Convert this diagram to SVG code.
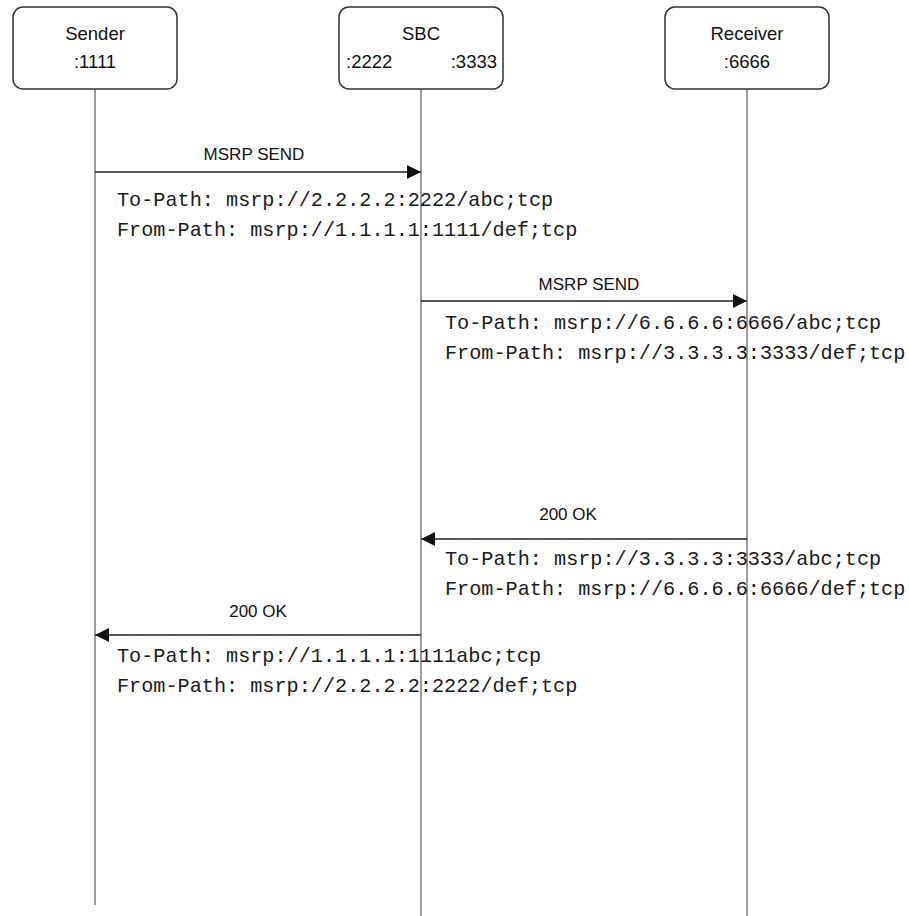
<svg xmlns="http://www.w3.org/2000/svg" width="909" height="916" viewBox="0 0 909 916">
<style>
.box{fill:#fff;stroke:#333;stroke-width:1.5}
.life{stroke:#7a7a7a;stroke-width:1.5}
.msg{stroke:#222;stroke-width:1.5;fill:none}
.lbl{font-family:"Liberation Sans",Arial,sans-serif;font-size:17px;fill:#111}
.nlbl{font-family:"Liberation Sans",Arial,sans-serif;font-size:18.5px;fill:#111}
.mono{font-family:"Liberation Mono","Courier New",monospace;font-size:20.2px;fill:#1a1a1a}
</style>
<defs>
<marker id="arr" viewBox="0 0 14 14" refX="14" refY="7" markerWidth="14" markerHeight="14" markerUnits="userSpaceOnUse" orient="auto">
<path d="M0,0 L14,7 L0,14 Z" fill="#111"/>
</marker>
</defs>
<g id="lifelines">
<line class="life" x1="95" y1="89" x2="95" y2="905"/>
<line class="life" x1="421" y1="89" x2="421" y2="916"/>
<line class="life" x1="747" y1="89" x2="747" y2="916"/>
</g>
<g id="sender">
<rect class="box" x="13" y="7" width="164" height="82" rx="10"/>
<text class="nlbl" x="95" y="40" text-anchor="middle">Sender</text>
<text class="nlbl" x="95" y="68" text-anchor="middle">:1111</text>
</g>
<g id="sbc">
<rect class="box" x="339" y="7" width="164" height="82" rx="10"/>
<text class="nlbl" x="421" y="40" text-anchor="middle">SBC</text>
<text class="nlbl" x="346" y="68">:2222</text>
<text class="nlbl" x="497" y="68" text-anchor="end">:3333</text>
</g>
<g id="receiver">
<rect class="box" x="665" y="7" width="164" height="82" rx="10"/>
<text class="nlbl" x="747" y="40" text-anchor="middle">Receiver</text>
<text class="nlbl" x="747" y="68" text-anchor="middle">:6666</text>
</g>
<g id="connectors">
<line class="msg" x1="95" y1="172" x2="421" y2="172" marker-end="url(#arr)"/>
<line class="msg" x1="421" y1="301" x2="747" y2="301" marker-end="url(#arr)"/>
<line class="msg" x1="747" y1="539" x2="421" y2="539" marker-end="url(#arr)"/>
<line class="msg" x1="421" y1="635" x2="95" y2="635" marker-end="url(#arr)"/>
</g>
<g id="labels">
<text class="lbl" x="254" y="160" text-anchor="middle">MSRP SEND</text>
<text class="mono" x="117" y="206">To-Path: msrp://2.2.2.2:2222/abc;tcp</text>
<text class="mono" x="117" y="236">From-Path: msrp://1.1.1.1:1111/def;tcp</text>
<text class="lbl" x="589" y="290" text-anchor="middle">MSRP SEND</text>
<text class="mono" x="445" y="329">To-Path: msrp://6.6.6.6:6666/abc;tcp</text>
<text class="mono" x="445" y="359">From-Path: msrp://3.3.3.3:3333/def;tcp</text>
<text class="lbl" x="568" y="520" text-anchor="middle">200 OK</text>
<text class="mono" x="445" y="565">To-Path: msrp://3.3.3.3:3333/abc;tcp</text>
<text class="mono" x="445" y="595">From-Path: msrp://6.6.6.6:6666/def;tcp</text>
<text class="lbl" x="258" y="617" text-anchor="middle">200 OK</text>
<text class="mono" x="117" y="662">To-Path: msrp://1.1.1.1:1111abc;tcp</text>
<text class="mono" x="117" y="692">From-Path: msrp://2.2.2.2:2222/def;tcp</text>
</g>
</svg>
